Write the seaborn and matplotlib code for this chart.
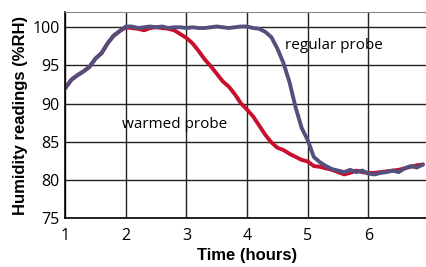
import matplotlib
matplotlib.use("Agg")
import matplotlib.pyplot as plt
import seaborn as sns
import pandas as pd

# time axis, hours (0.1 h steps)
hours = [round(1.0 + 0.1 * i, 1) for i in range(60)]

regular_probe = [
    92.0, 93.1, 93.7, 94.2, 94.8, 95.9, 96.6, 97.9, 98.9, 99.5,
    100.1, 100.1, 99.9, 100.0, 100.1, 100.0, 100.1, 99.9, 100.0, 100.0,
    99.9, 100.0, 99.9, 99.9, 100.0, 100.1, 100.0, 99.9, 100.0, 100.1,
    100.1, 99.9, 99.8, 99.4, 98.7, 97.2, 95.3, 92.8, 89.5, 86.8,
    85.2, 83.0, 82.3, 81.8, 81.4, 81.2, 81.0, 81.3, 81.0, 81.2,
    80.8, 80.7, 80.9, 81.0, 81.2, 81.0, 81.5, 81.8, 81.6, 82.0,
]

warmed_probe = [
    92.0, 93.1, 93.7, 94.2, 94.8, 95.9, 96.6, 97.9, 98.9, 99.5,
    100.0, 99.9, 99.8, 99.6, 99.9, 100.0, 99.9, 99.8, 99.6, 99.1,
    98.6, 97.9, 96.9, 95.8, 94.9, 93.9, 92.9, 92.2, 91.2, 90.0,
    89.2, 88.3, 87.1, 85.9, 84.9, 84.2, 83.9, 83.4, 83.0, 82.6,
    82.4, 81.8, 81.7, 81.5, 81.3, 81.0, 80.7, 80.9, 81.2, 81.0,
    80.9, 80.9, 81.0, 81.1, 81.2, 81.3, 81.5, 81.7, 81.9, 82.0,
]

df = pd.DataFrame({"hours": hours, "regular": regular_probe, "warmed": warmed_probe})

sns.set_style("white")
plt.rcParams['font.family'] = ['Open Sans', 'DejaVu Sans']
plt.rcParams['text.color'] = 'black'
plt.rcParams['xtick.color'] = 'black'
plt.rcParams['ytick.color'] = 'black'
plt.rcParams['axes.labelcolor'] = 'black'

fig = plt.figure(figsize=(4.26, 2.67), dpi=100)
ax = fig.add_axes([0.153, 0.184, 0.854, 0.771])

sns.lineplot(data=df, x="hours", y="warmed", ax=ax, color="#c8102e", linewidth=2.8)
sns.lineplot(data=df, x="hours", y="regular", ax=ax, color="#53507e", linewidth=2.8)

ax.set_xlim(1, 7)
ax.set_ylim(75, 102)
ax.set_xticks([1, 2, 3, 4, 5, 6])
ax.set_yticks([75, 80, 85, 90, 95, 100])
ax.tick_params(axis="both", labelsize=11.5, length=3, width=1)
ax.tick_params(axis="x", pad=4)
ax.tick_params(axis="y", pad=1)
ax.grid(True, color="#222222", linewidth=1)
ax.set_axisbelow(True)

for side in ["left", "bottom"]:
    ax.spines[side].set_color("black")
    ax.spines[side].set_linewidth(1.2)
ax.spines["top"].set_color("#888888")
ax.spines["right"].set_visible(False)

ax.text(4.62, 97.6, "regular probe", fontsize=11, va="center", ha="left")
ax.text(1.93, 87.2, "warmed probe", fontsize=11, va="center", ha="left")

ax.set_xlabel("Time (hours)", fontsize=12, fontweight="bold", family="Liberation Sans", labelpad=3)
ax.set_ylabel("Humidity readings (%RH)", fontsize=12, fontweight="bold", family="Liberation Sans", labelpad=3)

fig.savefig("out.png", dpi=100)
